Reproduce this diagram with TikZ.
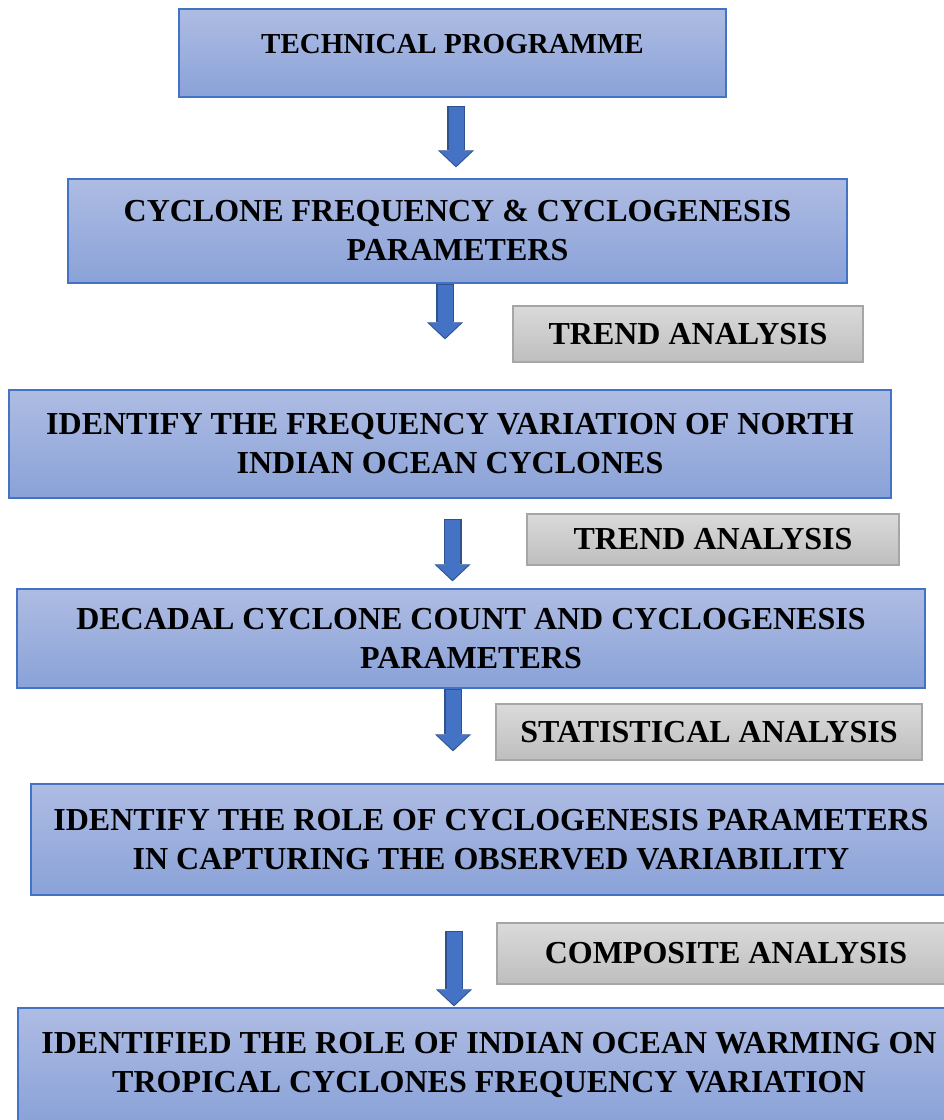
\documentclass[tikz,border=0pt]{standalone}
\usepackage{fontspec}
\setmainfont{Liberation Serif}
\usetikzlibrary{arrows.meta}
\definecolor{boxtop}{HTML}{AEBCE3}
\definecolor{boxbottom}{HTML}{8AA2D8}
\definecolor{boxedge}{HTML}{4472C4}
\definecolor{greytop}{HTML}{DADADA}
\definecolor{greybottom}{HTML}{BEBEBE}
\definecolor{greyedge}{HTML}{A6A6A6}
\definecolor{arrowblue}{HTML}{4472C4}
\definecolor{arrowedge}{HTML}{2F528F}

\begin{document}
\begin{tikzpicture}[x=1pt, y=-1pt,
      stage/.style={draw=boxedge, line width=1.2pt, top color=boxtop, bottom color=boxbottom,
                    inner sep=0pt, align=center, font=\bfseries\fontsize{32}{39}\selectfont},
      method/.style={draw=greyedge, line width=1.2pt, top color=greytop, bottom color=greybottom,
                     inner sep=0pt, align=center, font=\bfseries\fontsize{32}{39}\selectfont},
      flow/.style={line width=15pt, draw=arrowblue, shorten <=1.5pt, shorten >=1.5pt,
                   -{Triangle[width=32pt,length=15pt,line width=0pt]},
                   preaction={draw=arrowedge, line width=18pt, shorten <=0pt, shorten >=0pt,
                              -{Triangle[width=36pt,length=17pt,line width=0pt]}}}
    ]
    \useasboundingbox (0,0) rectangle (944,1120);
    \clip (0,0) rectangle (944,1120);
    \node[stage, minimum width=547pt, minimum height=88pt, text height=20pt, text depth=20pt,
          font=\bfseries\fontsize{29}{35}\selectfont] (tp) at (452.5,53) {TECHNICAL PROGRAMME};
    \node[stage, minimum width=779pt, minimum height=104pt] (cf) at (457.5,231) {CYCLONE FREQUENCY \& CYCLOGENESIS\\PARAMETERS};
    \node[stage, minimum width=882pt, minimum height=108pt] (fv) at (450,444) {IDENTIFY THE FREQUENCY VARIATION OF NORTH\\INDIAN OCEAN CYCLONES};
    \node[stage, minimum width=908pt, minimum height=99pt] (dc) at (471,638.5) {DECADAL CYCLONE COUNT AND CYCLOGENESIS\\PARAMETERS};
    \node[stage, minimum width=920pt, minimum height=111pt] (rp) at (491,839.5) {IDENTIFY THE ROLE OF CYCLOGENESIS PARAMETERS\\IN CAPTURING THE OBSERVED VARIABILITY};
    \node[stage, minimum width=942pt, minimum height=114pt] (iw) at (489,1065) {IDENTIFIED THE ROLE OF INDIAN OCEAN WARMING ON\\TROPICAL CYCLONES FREQUENCY VARIATION};
    \node[method, minimum width=350pt, minimum height=56pt] (ta1) at (688,334) {TREND ANALYSIS};
    \node[method, minimum width=372pt, minimum height=51pt] (ta2) at (713,539.5) {TREND ANALYSIS};
    \node[method, minimum width=426pt, minimum height=56pt] (sa) at (709,732) {STATISTICAL ANALYSIS};
    \node[method, minimum width=458pt, minimum height=61pt] (ca) at (726,953.5) {COMPOSITE ANALYSIS};
    \draw[flow] ([xshift=3.5pt,yshift=-8pt]tp.south) -- ([xshift=-1.5pt,yshift=11pt]cf.north);
    \draw[flow] ([xshift=-12.5pt]cf.south) -- ([xshift=-5pt,yshift=50pt]fv.north);
    \draw[flow] ([xshift=2.5pt,yshift=-20pt]fv.south) -- ([xshift=-18.5pt,yshift=7pt]dc.north);
    \draw[flow] ([xshift=-18pt]dc.south) -- ([xshift=-38pt,yshift=32pt]rp.north);
    \draw[flow] ([xshift=-37pt,yshift=-35pt]rp.south) -- ([xshift=-35pt,yshift=1pt]iw.north);
  \end{tikzpicture}
\end{document}
